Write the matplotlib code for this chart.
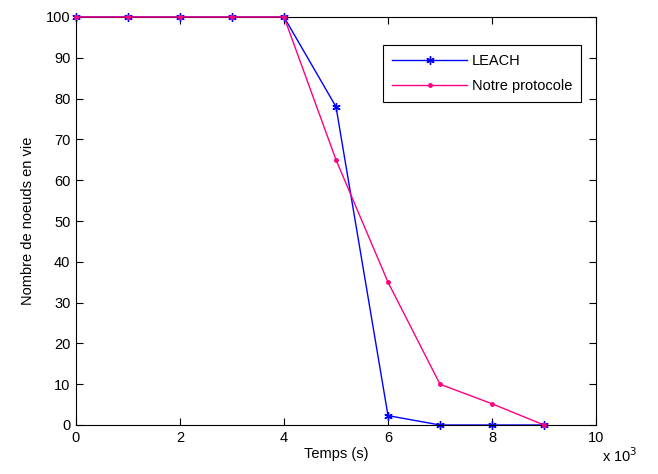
import matplotlib
matplotlib.use("Agg")
import matplotlib.pyplot as plt

plt.rcParams['font.family'] = ['Liberation Sans', 'DejaVu Sans']

x = [0, 1, 2, 3, 4, 5, 6, 7, 8, 9]
leach = [100, 100, 100, 100, 100, 78, 2.3, 0, 0, 0]
notre = [100, 100, 100, 100, 100, 65, 35, 10, 5.2, 0]
xticks = [0, 2, 4, 6, 8, 10]
yticks = list(range(0, 101, 10))

fs = 10.5
fig = plt.figure(figsize=(6.58, 4.74), dpi=100)
ax = fig.add_axes([76/658, 1-425/474, 520/658, 408/474])
ax.plot(x, leach, color='#0000FF', lw=1, marker=(6, 2, 0), ms=6, mew=1, label='LEACH', clip_on=False)
ax.plot(x, notre, color='#FF0080', lw=1, marker='.', ms=5, label='Notre protocole', clip_on=False, zorder=3)
ax.set_xlim(0, 10)
ax.set_ylim(0, 100)
ax.set_xticks(xticks)
ax.set_yticks(yticks)
ax.tick_params(direction='in', top=True, right=True, labelsize=fs, length=5, pad=4)
for s in ax.spines.values():
    s.set_linewidth(0.8)
ax.set_xlabel('Temps (s)', fontsize=fs, labelpad=2)
ax.set_ylabel('Nombre de noeuds en vie', fontsize=fs, labelpad=8)
ax.text(1.012, -0.075, r'x 10$^{3}$', transform=ax.transAxes, fontsize=fs, ha='left', va='center')
leg = ax.legend(loc='upper right', bbox_to_anchor=(0.971, 0.931), fontsize=fs, frameon=True,
                fancybox=False, edgecolor='black', framealpha=1, handlelength=5.2,
                borderpad=0.6, borderaxespad=0, labelspacing=0.75, handletextpad=0.3)
leg.get_frame().set_linewidth(0.8)
fig.savefig('out.png', dpi=100)
